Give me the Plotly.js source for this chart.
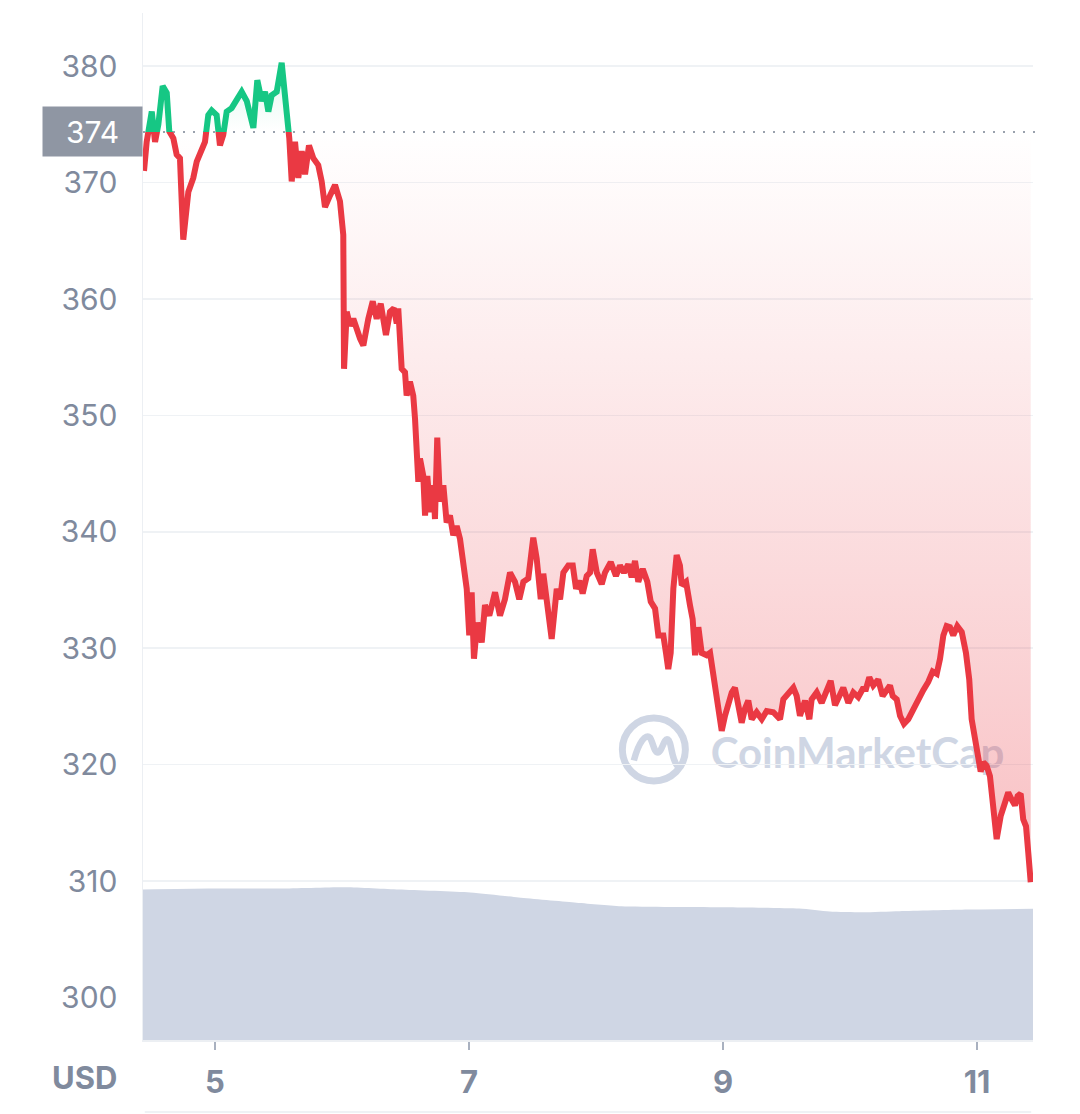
<!DOCTYPE html>
<html><head><meta charset="utf-8">
<script src="https://cdn.plot.ly/plotly-3.0.1.min.js"></script>
<style>html,body{margin:0;padding:0;background:#fff;}#chart{width:1080px;height:1114px;}</style>
</head><body><div id="chart"></div>
<script>
// Price series (x = day of month, fractional)
const days = [4.441,4.462,4.502,4.528,4.554,4.588,4.620,4.640,4.672,4.698,4.724,4.750,4.790,4.829,4.856,4.895,4.921,4.947,4.974,5.013,5.039,5.065,5.092,5.131,5.171,5.210,5.250,5.302,5.333,5.368,5.394,5.420,5.446,5.486,5.525,5.543,5.565,5.585,5.604,5.630,5.656,5.683,5.709,5.740,5.774,5.813,5.840,5.866,5.906,5.945,5.984,6.010,6.016,6.037,6.063,6.089,6.142,6.168,6.207,6.242,6.273,6.305,6.346,6.378,6.409,6.431,6.443,6.470,6.496,6.509,6.535,6.561,6.575,6.588,6.601,6.614,6.640,6.654,6.672,6.693,6.719,6.732,6.750,6.772,6.798,6.824,6.850,6.876,6.903,6.929,6.955,6.982,7.002,7.021,7.039,7.065,7.100,7.126,7.160,7.205,7.244,7.283,7.323,7.362,7.396,7.428,7.467,7.506,7.533,7.565,7.585,7.624,7.651,7.691,7.717,7.743,7.782,7.817,7.843,7.869,7.895,7.927,7.953,7.974,8.006,8.045,8.071,8.116,8.157,8.189,8.220,8.254,8.281,8.307,8.333,8.368,8.404,8.431,8.465,8.491,8.530,8.551,8.569,8.588,8.609,8.635,8.661,8.675,8.709,8.740,8.761,8.780,8.806,8.832,8.872,8.898,8.924,8.950,8.971,8.990,9.016,9.042,9.069,9.094,9.120,9.147,9.173,9.199,9.226,9.265,9.305,9.344,9.396,9.449,9.475,9.514,9.554,9.580,9.606,9.646,9.680,9.698,9.738,9.777,9.817,9.848,9.882,9.921,9.947,9.987,10.026,10.065,10.100,10.126,10.152,10.183,10.222,10.257,10.289,10.315,10.336,10.368,10.394,10.425,10.459,10.498,10.537,10.577,10.616,10.651,10.683,10.709,10.735,10.761,10.787,10.813,10.845,10.880,10.913,10.939,10.958,10.984,11.010,11.029,11.050,11.076,11.102,11.128,11.155,11.187,11.220,11.246,11.273,11.299,11.320,11.344,11.364,11.386,11.404,11.423];
const prices = [371.0,373.5,376.1,373.5,375.0,378.3,377.7,374.4,373.8,372.4,372.1,365.1,369.2,370.4,371.8,372.7,373.5,375.8,376.2,375.8,373.2,374.1,376.1,376.4,377.1,377.8,377.0,374.7,378.8,377.0,377.8,376.1,377.5,377.8,380.3,378.4,375.8,373.8,370.1,373.5,370.4,372.7,370.7,373.2,372.1,371.5,370.1,367.9,368.9,369.8,368.4,365.5,354.0,358.9,357.7,358.3,356.6,356.0,358.3,359.8,358.3,359.6,356.9,358.9,359.2,357.9,359.2,354.0,353.7,351.7,352.9,351.7,349.7,346.3,344.3,346.3,344.8,341.4,344.8,341.7,344.0,341.1,348.1,342.6,344.0,340.8,341.4,339.7,340.5,339.4,337.4,335.1,331.1,334.8,329.1,332.2,330.5,333.7,332.8,334.8,332.8,334.2,336.5,335.7,334.2,335.7,336.0,339.5,337.7,334.2,336.4,333.1,330.8,335.1,334.2,336.5,337.1,337.1,335.1,335.8,334.7,336.2,336.5,338.5,336.5,335.5,336.5,337.4,336.2,337.1,336.5,337.2,336.1,337.5,335.7,336.8,335.7,334.0,333.4,331.1,331.1,329.6,328.2,329.6,335.1,338.0,337.1,335.4,335.7,333.7,332.5,329.4,331.8,329.6,329.4,329.6,327.6,325.6,323.9,322.9,324.2,325.1,326.2,326.6,324.8,323.6,324.8,325.5,323.9,324.5,323.9,324.6,324.5,323.9,325.6,326.1,326.6,325.9,324.2,325.5,323.9,325.6,326.2,325.3,326.5,327.2,325.1,326.2,326.6,325.3,326.2,325.8,326.5,326.5,327.5,326.8,327.3,325.9,326.4,326.8,325.9,325.6,324.2,323.5,323.9,324.8,325.6,326.4,327.1,328.0,327.8,329.1,331.1,331.9,331.8,331.1,331.9,331.4,329.6,327.3,323.9,322.2,321.1,319.4,320.2,319.9,319.0,316.8,313.6,315.6,317.0,317.6,317.0,316.5,317.3,317.5,315.3,314.7,312.4,309.9];

// Volume series (relative units)
const volDays = [4.433,4.945,5.51,6.03,6.45,7.01,7.39,7.83,8.2,9.02,9.6,9.84,10.1,10.39,10.93,11.441];
const volumes = [146.5,147.5,147.5,148.8,146.5,143.6,138.8,134.0,130.3,129.3,128.0,125.1,124.4,125.4,127.0,127.7];

const baseline = 374.35;
const baselineLabel = '374';
const yTicks = [300,310,320,330,340,350,360,370,380];
const xTicks = [5,7,9,11];
const xTickLabels = ['5','7','9','11'];
const yRange = [296.34, 384.57];
const xRange = [4.433, 11.441];
const volRange = [0, 1000];

const RED = '#ea3943', GREEN = '#16c784', GREY = '#808a9d';
const split = (baseline - yRange[0]) / (yRange[1] - yRange[0]);
const pMin = Math.min(...prices), pMax = Math.max(...prices);
const baseX = [days[0], days[days.length-1]];
const baseY = [baseline, baseline];

const traces = [
  {x: volDays, y: volumes, xaxis:'x', yaxis:'y4', type:'scatter', mode:'lines',
   line:{width:0, shape:'spline', smoothing:0.6}, fill:'tozeroy', fillcolor:'#cfd6e4', hoverinfo:'skip'},
  {x: baseX, y: baseY, xaxis:'x2', yaxis:'y2', type:'scatter', mode:'lines', line:{width:0}, hoverinfo:'skip'},
  {x: days, y: prices, xaxis:'x2', yaxis:'y2', type:'scatter', mode:'lines',
   line:{color:RED, width:6}, fill:'tonexty',
   fillgradient:{type:'vertical', start:pMin, stop:baseline,
     colorscale:[[0,'rgba(234,57,67,0.32)'],[1,'rgba(234,57,67,0)']]}},
  {x: baseX, y: baseY, xaxis:'x3', yaxis:'y3', type:'scatter', mode:'lines', line:{width:0}, hoverinfo:'skip'},
  {x: days, y: prices, xaxis:'x3', yaxis:'y3', type:'scatter', mode:'lines',
   line:{color:GREEN, width:6}, fill:'tonexty',
   fillgradient:{type:'vertical', start:baseline, stop:pMax,
     colorscale:[[0,'rgba(22,199,132,0)'],[1,'rgba(22,199,132,0.14)']]}}
];

const hidden = {visible:false, fixedrange:true, showgrid:false, zeroline:false};
const layout = {
  width:1080, height:1114,
  margin:{l:143, r:47, t:13, b:74, pad:0},
  paper_bgcolor:'#ffffff', plot_bgcolor:'rgba(0,0,0,0)',
  showlegend:false,
  font:{family:'Inter, "Open Sans", sans-serif', color:GREY},
  xaxis:{range:xRange, tickvals:xTicks, ticktext:xTickLabels, showgrid:false, zeroline:false,
    showline:true, linecolor:'#eceff3', linewidth:2, ticks:'outside', ticklen:8, tickwidth:1.5,
    tickcolor:'#a9b1c0', tickfont:{size:31, weight:700, color:GREY}, ticklabelstandoff:6, fixedrange:true},
  yaxis:{range:yRange, tickvals:yTicks, showgrid:true, gridcolor:'#eff2f5', gridwidth:1.5, zeroline:false,
    showline:true, linecolor:'#eceff3', linewidth:1.5, ticks:'', tickfont:{size:30, color:GREY},
    ticklabelstandoff:18, fixedrange:true},
  yaxis4:Object.assign({overlaying:'y', range:volRange}, hidden),
  xaxis2:Object.assign({domain:[0,1], range:xRange, anchor:'y2'}, hidden),
  yaxis2:Object.assign({domain:[0,split], range:[yRange[0], baseline], anchor:'x2'}, hidden),
  xaxis3:Object.assign({domain:[0,1], range:xRange, anchor:'y3'}, hidden),
  yaxis3:Object.assign({domain:[split,1], range:[baseline, yRange[1]], anchor:'x3'}, hidden),
  shapes:[
    {type:'line', xref:'paper', yref:'y', x0:0, x1:1.006, y0:baseline, y1:baseline, layer:'below',
     line:{color:'#9aa1ad', width:2, dash:'2px,8px'}},
    {type:'line', xref:'paper', yref:'paper', x0:0.002, x1:0.998, y0:-0.0701, y1:-0.0701,
     line:{color:'#eff2f5', width:2}},
    {type:'rect', xref:'paper', yref:'paper', x0:0.6348, x1:0.9708, y0:0.253, y1:0.3096, layer:'below',
     line:{width:0}, fillcolor:'rgba(0,0,0,0)',
     label:{text:'CoinMarketCap', textposition:'middle center', padding:0,
       font:{family:'Lato, Inter, sans-serif', size:42, weight:700, color:'#cfd6e4'}}},
    {type:'circle', xref:'paper', yref:'paper', xsizemode:'pixel', ysizemode:'pixel',
     xanchor:0.574, yanchor:0.2829, x0:-31.5, x1:31.5, y0:-31.5, y1:31.5, layer:'below',
     line:{color:'#cfd6e4', width:7}},
    {type:'path', xref:'paper', yref:'paper', xsizemode:'pixel', ysizemode:'pixel',
     xanchor:0.574, yanchor:0.2829, layer:'below',
     path:'M -20 -11 C -15 8, -8 16, -4 12 C -1 8, 0 -3, 4 -3 C 8 -3, 10 12, 14 10 C 18 8, 17 -10, 24 -17',
     line:{color:'#cfd6e4', width:6.5}}
  ],
  annotations:[
    {xref:'paper', yref:'y', x:0, y:baseline, xanchor:'right', yanchor:'middle', showarrow:false,
     text:baselineLabel, bgcolor:'#8f96a3', width:95, height:45, borderpad:2, align:'center',
     font:{size:30, color:'#ffffff'}},
    {xref:'paper', yref:'paper', x:-0.0652, y:-0.037, xanchor:'center', yanchor:'middle', showarrow:false,
     text:'USD', font:{size:31, weight:700, color:GREY}}
  ]
};

Plotly.newPlot('chart', traces, layout, {displayModeBar:false, staticPlot:true});
</script>
</body></html>
